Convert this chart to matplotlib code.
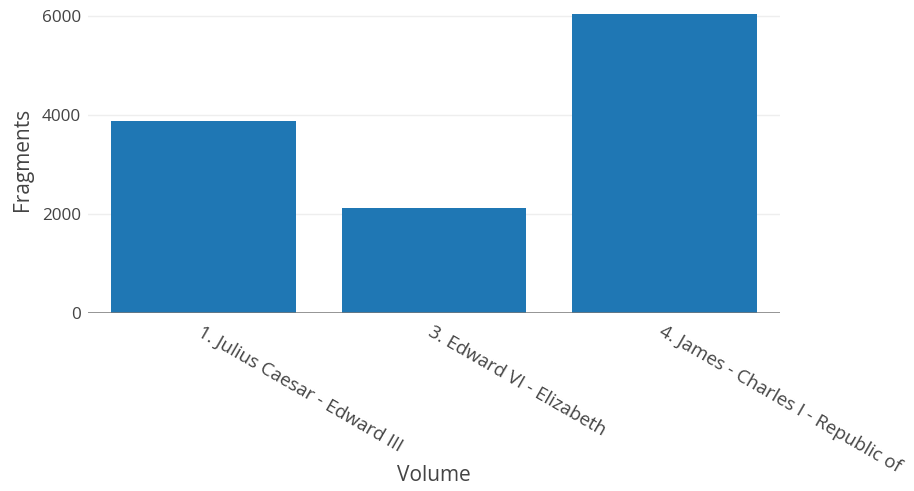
import matplotlib
matplotlib.use("Agg")
import matplotlib.pyplot as plt

# Fragments per volume
volumes = ["1. Julius Caesar - Edward III", "3. Edward VI - Elizabeth",
           "4. James - Charles I - Republic of"]
fragments = [3880, 2120, 6040]
y_ticks = [0, 2000, 4000, 6000]

plt.rcParams['font.family'] = ['Open Sans', 'DejaVu Sans']
text_color = '#444444'

fig = plt.figure(figsize=(9.14, 4.91), dpi=100)
ax = fig.add_axes([88 / 914, (491 - 313) / 491, 692 / 914, 313 / 491])

x = list(range(len(volumes)))
ax.bar(x, fragments, width=0.8, color='#1f77b4', zorder=2)

ax.set_xlim(-0.5, len(volumes) - 0.5)
ax.set_ylim(0, 6000 * 313 / 297)
ax.set_yticks(y_ticks)
ax.set_yticklabels([str(t) for t in y_ticks], fontsize=12.3, color=text_color)
ax.grid(axis='y', color='#eeeeee', linewidth=1, zorder=0)
ax.axhline(0, color='#777777', linewidth=1.8, zorder=3)

ax.set_xticks(x)
ax.set_xticklabels(volumes, rotation=-30, ha='left', va='top',
                   rotation_mode='anchor', fontsize=13.4, color=text_color)
ax.tick_params(axis='both', length=0)
ax.tick_params(axis='y', pad=5)
ax.tick_params(axis='x', pad=7)

for side in ['top', 'right', 'left', 'bottom']:
    ax.spines[side].set_visible(False)

ax.set_xlabel('Volume', fontsize=15, color=text_color)
ax.xaxis.set_label_coords(0.5, -0.52)
ax.xaxis.label.set_va('center')
ax.set_ylabel('Fragments', fontsize=15, color=text_color)
ax.yaxis.set_label_coords(-0.095, 0.49)
ax.yaxis.label.set_va('center')

fig.savefig('out.png', dpi=100)
